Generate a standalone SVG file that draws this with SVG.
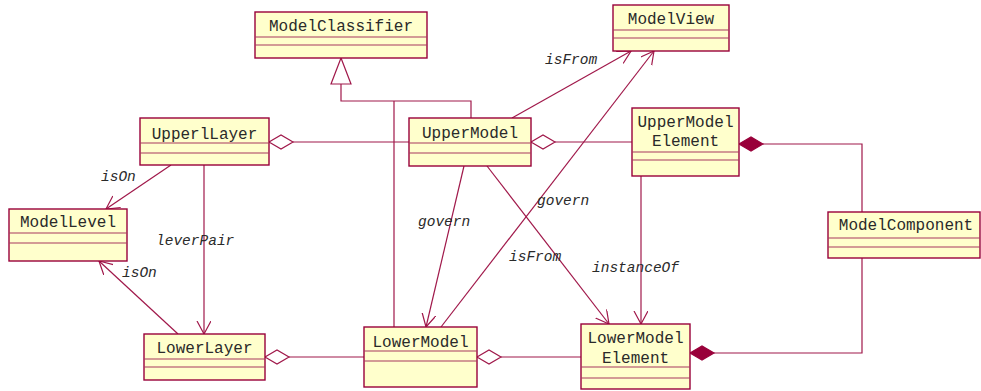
<svg xmlns="http://www.w3.org/2000/svg" width="981" height="391" viewBox="0 0 981 391">
  <defs>
    <style>
      .box { fill: #ffffcc; stroke: #99003a; stroke-width: 1.4; }
      .sep { stroke: #a8385e; stroke-width: 1.2; fill: none; }
      .shadow { stroke: #8a0030; stroke-width: 2; fill: none; }
      .name { font-family: "Liberation Mono", "Courier New", monospace; font-size: 16px; fill: #2a2a2a; text-anchor: middle; }
      .lbl { font-family: "Liberation Mono", "Courier New", monospace; font-size: 14.5px; font-style: italic; fill: #2a2a2a; }
      .edge { stroke: #a0184a; stroke-width: 1.2; fill: none; }
      .agg { fill: #ffffff; stroke: #a0184a; stroke-width: 1.2; }
      .comp { fill: #99003a; stroke: #99003a; stroke-width: 1.2; }
    </style>
    <marker id="open" markerWidth="16" markerHeight="16" refX="13" refY="7" orient="auto" markerUnits="userSpaceOnUse">
      <path d="M0,0 L13,7 L0,14" fill="none" stroke="#a0184a" stroke-width="1.2"/>
    </marker>
  </defs>

  <!-- connectors -->
  <g id="connectors">
    <!-- generalization to ModelClassifier -->
    <path class="edge" d="M341,84 V101 H471 V118 M394,101 V327"/>
    <polygon points="341,58 331,84 351,84" fill="#ffffff" stroke="#a0184a" stroke-width="1.2"/>

    <!-- aggregations -->
    <path class="edge" d="M293,142 H409"/>
    <polygon class="agg" points="269,142 281,135 293,142 281,149"/>
    <path class="edge" d="M555,142 H632"/>
    <polygon class="agg" points="531,142 543,135 555,142 543,149"/>
    <path class="edge" d="M289,357 H364"/>
    <polygon class="agg" points="265,357 277,350 289,357 277,364"/>
    <path class="edge" d="M501,357 H581"/>
    <polygon class="agg" points="477,357 489,350 501,357 489,364"/>

    <!-- compositions with ModelComponent -->
    <path class="edge" d="M763,144 H862 V212"/>
    <polygon class="comp" points="739,144 751,137 763,144 751,151"/>
    <path class="edge" d="M714,353 H862 V258"/>
    <polygon class="comp" points="690,353 702,346 714,353 702,360"/>

    <!-- directed associations -->
    <line class="edge" x1="512" y1="118" x2="631" y2="51" marker-end="url(#open)"/>
    <line class="edge" x1="441" y1="327" x2="654" y2="51" marker-end="url(#open)"/>
    <line class="edge" x1="464" y1="166" x2="426" y2="327" marker-end="url(#open)"/>
    <line class="edge" x1="487" y1="166" x2="609" y2="324" marker-end="url(#open)"/>
    <line class="edge" x1="641" y1="176" x2="641" y2="324" marker-end="url(#open)"/>
    <line class="edge" x1="171" y1="165" x2="106" y2="209" marker-end="url(#open)"/>
    <line class="edge" x1="204" y1="165" x2="204" y2="334" marker-end="url(#open)"/>
    <line class="edge" x1="178" y1="334" x2="99" y2="261" marker-end="url(#open)"/>

    <!-- association labels -->
    <text class="lbl" x="545" y="64">isFrom</text>
    <text class="lbl" x="101" y="181">isOn</text>
    <text class="lbl" x="156" y="245">leverPair</text>
    <text class="lbl" x="122" y="277">isOn</text>
    <text class="lbl" x="418" y="226">govern</text>
    <text class="lbl" x="537" y="205">govern</text>
    <text class="lbl" x="509" y="261">isFrom</text>
    <text class="lbl" x="592" y="272">instanceOf</text>
  </g>

  <!-- classes -->
  <g id="ModelClassifier">
    <rect class="box" x="255" y="12" width="172" height="46"/>
    <path class="sep" d="M255,37 H427 M255,45 H427"/>
    <text class="name" x="341" y="31">ModelClassifier</text>
  </g>

  <g id="ModelView">
    <rect class="box" x="613" y="5" width="116" height="46"/>
    <path class="sep" d="M613,30 H729 M613,38 H729"/>
    <text class="name" x="671" y="24">ModelView</text>
  </g>

  <g id="UpperlLayer">
    <rect class="box" x="140" y="118" width="129" height="47"/>
    <path class="sep" d="M140,143 H269 M140,153 H269"/>
    <text class="name" x="204.5" y="139">UpperlLayer</text>
  </g>

  <g id="UpperModel">
    <rect class="box" x="409" y="118" width="122" height="48"/>
    <path class="sep" d="M409,143 H531 M409,153 H531"/>
    <text class="name" x="470" y="138">UpperModel</text>
  </g>

  <g id="UpperModelElement">
    <rect class="box" x="632" y="108" width="107" height="68"/>
    <path class="sep" d="M632,152 H739 M632,160 H739"/>
    <text class="name" x="685.5" y="127">UpperModel</text>
    <text class="name" x="685.5" y="146">Element</text>
  </g>

  <g id="ModelLevel">
    <rect class="box" x="9" y="209" width="118" height="52"/>
    <path class="sep" d="M9,233 H127 M9,243 H127"/>
    <text class="name" x="68" y="227">ModelLevel</text>
  </g>

  <g id="ModelComponent">
    <rect class="box" x="828" y="212" width="152" height="46"/>
    <path class="sep" d="M828,238 H980 M828,247 H980"/>
    <text class="name" x="906" y="230">ModelComponent</text>
  </g>

  <g id="LowerLayer">
    <rect class="box" x="144" y="334" width="121" height="46"/>
    <path class="sep" d="M144,359 H265 M144,367 H265"/>
    <text class="name" x="204.5" y="353">LowerLayer</text>
  </g>

  <g id="LowerModel">
    <rect class="box" x="364" y="327" width="113" height="60"/>
    <path class="sep" d="M364,351 H477 M364,361 H477"/>
    <text class="name" x="420.5" y="347">LowerModel</text>
  </g>

  <g id="LowerModelElement">
    <rect class="box" x="581" y="324" width="109" height="65"/>
    <path class="sep" d="M581,367 H690 M581,378 H690"/>
    <text class="name" x="635.5" y="343">LowerModel</text>
    <text class="name" x="635.5" y="363">Element</text>
  </g>
</svg>
